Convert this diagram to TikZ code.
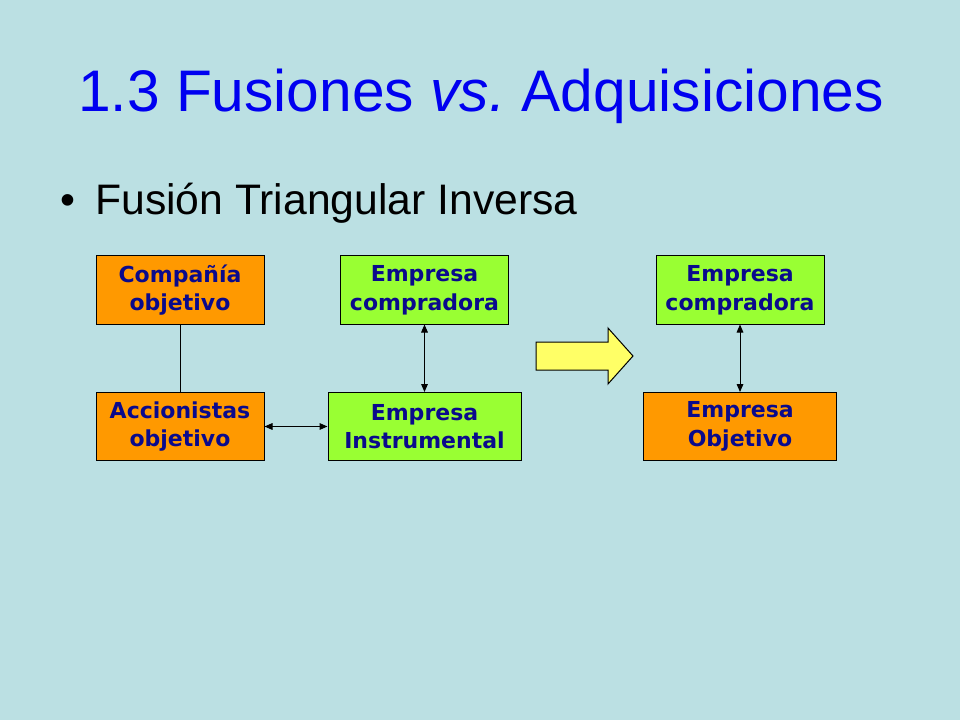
\documentclass[tikz,border=0pt]{standalone}
\usepackage{fontspec}
\setmainfont{Liberation Sans}
\newfontfamily\boxfont{DejaVu Sans}
\usepackage{tikz}
\usetikzlibrary{arrows.meta,positioning,calc}
\usepackage{xcolor}

\definecolor{slideBg}{RGB}{187,224,227}
\definecolor{titleBlue}{RGB}{0,0,240}
\definecolor{boxText}{RGB}{10,10,140}
\definecolor{targetOrange}{RGB}{255,153,0}
\definecolor{buyerGreen}{RGB}{153,255,51}
\definecolor{arrowYellow}{RGB}{255,255,102}

\begin{document}
\begin{tikzpicture}[
  x=0.75pt, y=-0.75pt,
  >={Triangle[length=6pt,width=5pt]},
  titleText/.style={font=\fontsize{44}{53}\selectfont, text=titleBlue, anchor=base, inner sep=0pt},
  bulletText/.style={font=\fontsize{32}{38}\selectfont, text=black, anchor=base west, inner sep=0pt},
  box/.style={draw=black, line width=0.75pt, font=\boxfont\bfseries\fontsize{16.5}{21.5}\selectfont, text=boxText, align=center, inner sep=0pt, minimum width=126pt, minimum height=51pt},
  boxWide/.style={box, minimum width=144.75pt},
  target/.style={fill=targetOrange},
  buyer/.style={fill=buyerGreen},
  link/.style={line width=0.75pt},
  arrow/.style={<->, line width=0.75pt},
]

% --- Slide background ---
\fill[slideBg] (0,0) rectangle (960,720);
\useasboundingbox (0,0) rectangle (960,720);

% --- Title and bullet ---
\node[titleText] (title) at (481,112) {1.3 Fusiones \textit{vs.}\ Adquisiciones};
\node[bulletText] (dot) at (60,215) {\textbullet};
\node[bulletText] (sub) at (95,215) {Fusión Triangular Inversa};

% --- Before the merger ---
\node[box, target] (comp) at (180,290) {Compañía\\objetivo};
\node[box, target] (acc) at (180,426.5) {Accionistas\\objetivo};
\node[box, buyer] (buyL) at (424.5,290) {Empresa\\compradora};
\node[boxWide, buyer] (instr) at (424.5,426.5) {Empresa\\Instrumental};

\draw[link] (comp) -- (acc);
\draw[arrow] (buyL) -- (instr);
\draw[arrow] (acc) -- (instr);

% --- Transition arrow ---
\draw[line width=0.75pt, fill=arrowYellow]
  (536,342) -- (608,342) -- (608,328) -- (633,356) -- (608,384) -- (608,370) -- (536,370) -- cycle;

% --- After the merger ---
\node[box, buyer] (buyR) at (740,290) {Empresa\\compradora};
\node[boxWide, target] (obj) at (740,426.5) {Empresa\\Objetivo};

\draw[arrow] (buyR) -- (obj);

\end{tikzpicture}
\end{document}
